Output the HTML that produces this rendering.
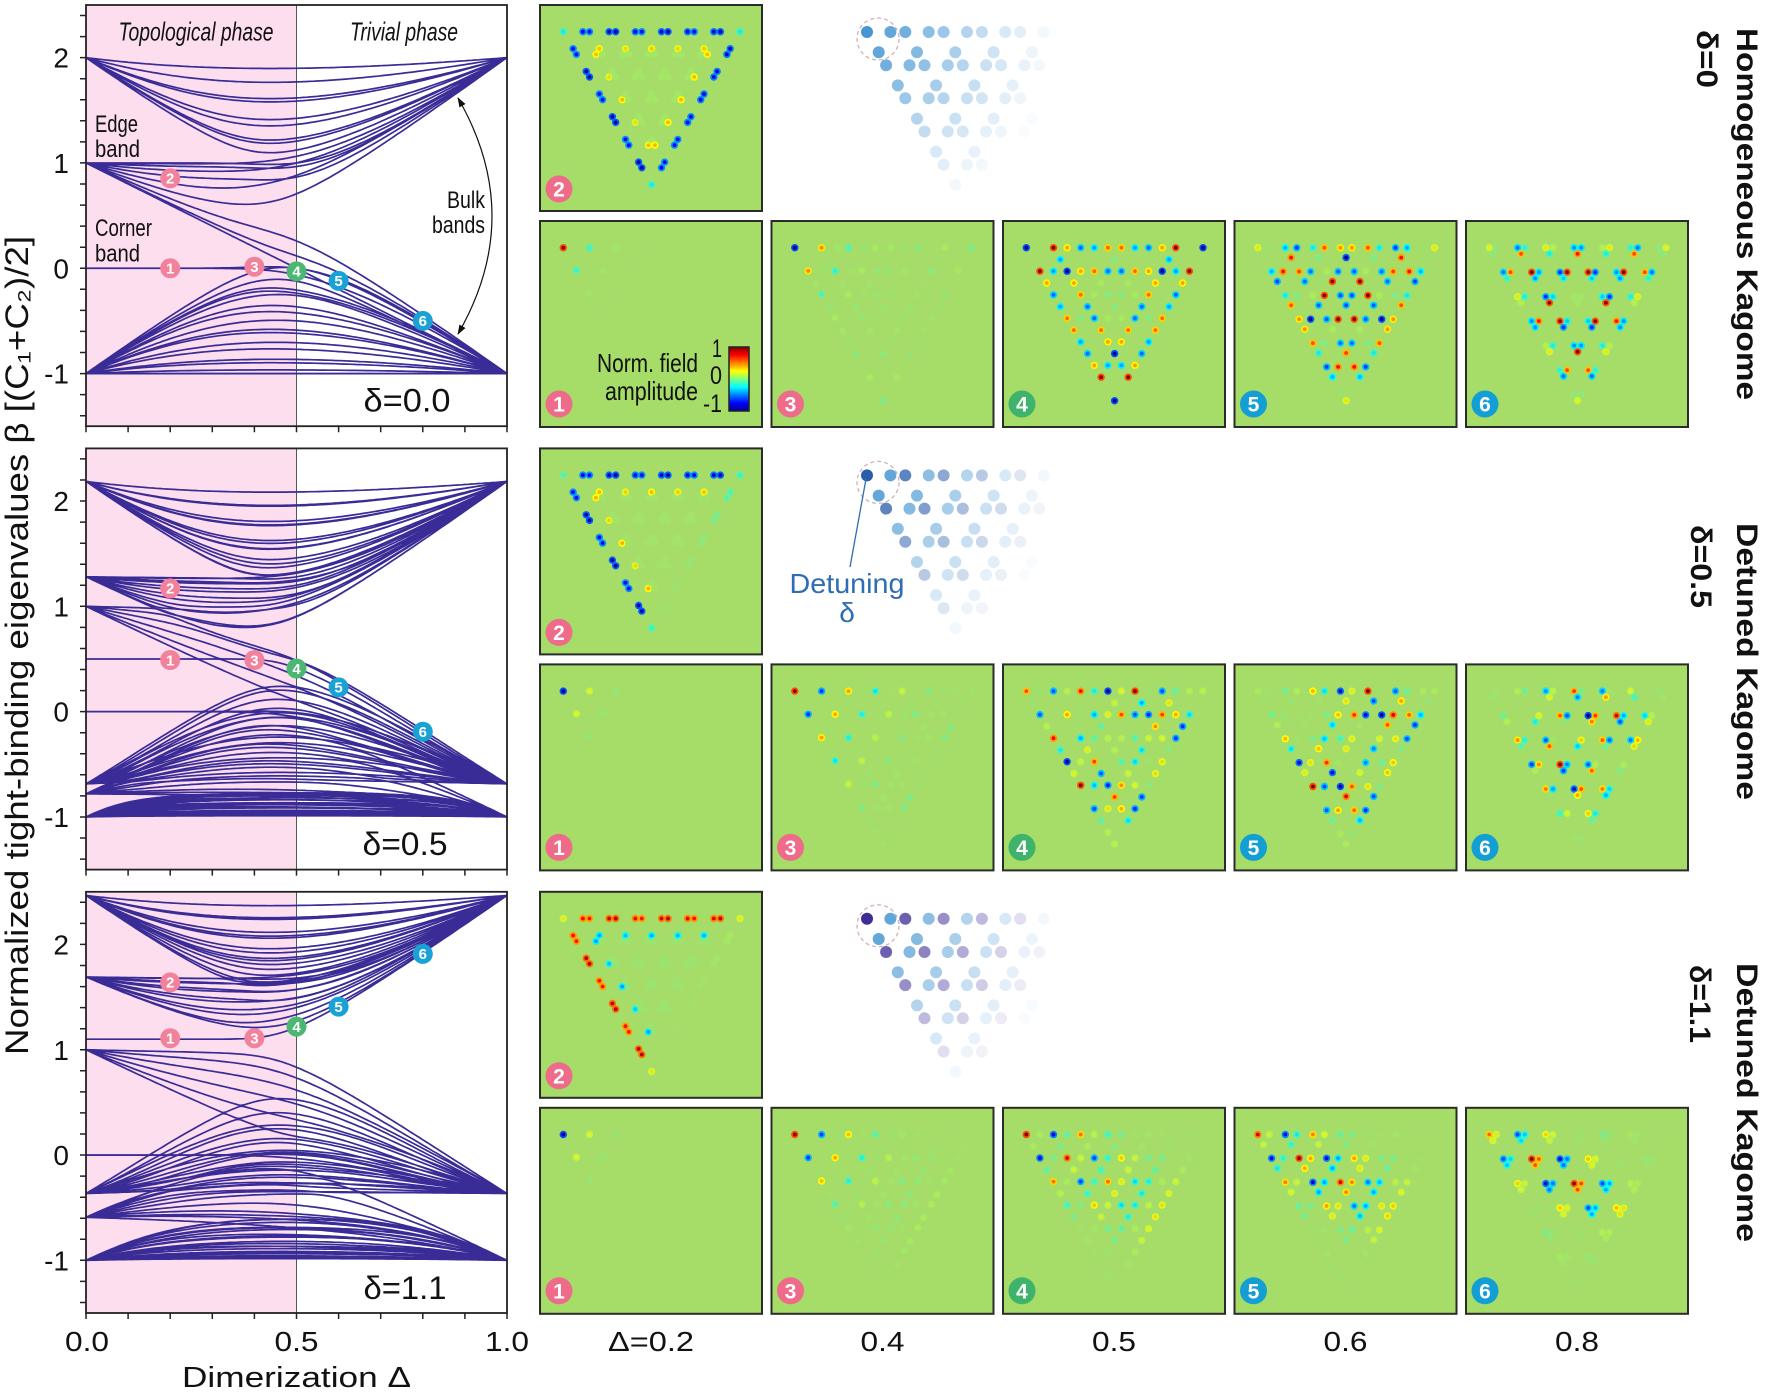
<!DOCTYPE html>
<html><head><meta charset="utf-8"><title>Kagome bands</title>
<style>
html,body{margin:0;padding:0;background:#fff;width:1772px;height:1393px;overflow:hidden}
svg{display:block}
</style></head><body>
<svg id="fig" xmlns="http://www.w3.org/2000/svg" width="1772" height="1393" viewBox="0 0 1772 1393" font-family="'Liberation Sans','DejaVu Sans',sans-serif">
<defs>
<linearGradient id="jet" x1="0" y1="1" x2="0" y2="0">
<stop offset="0" stop-color="#00008f"/><stop offset="0.125" stop-color="#0000ff"/><stop offset="0.375" stop-color="#00ffff"/><stop offset="0.5" stop-color="#80ff80"/><stop offset="0.625" stop-color="#ffff00"/><stop offset="0.875" stop-color="#ff0000"/><stop offset="1" stop-color="#800000"/>
</linearGradient>
<clipPath id="c0"><rect x="86" y="5" width="421" height="421.2"/></clipPath>
<clipPath id="c1"><rect x="86" y="448.4" width="421" height="421.2"/></clipPath>
<clipPath id="c2"><rect x="86" y="891.8" width="421" height="421.2"/></clipPath>
<marker id="ah" viewBox="0 0 10 10" refX="9" refY="5" markerWidth="10" markerHeight="10" markerUnits="userSpaceOnUse" orient="auto-start-reverse"><path d="M0 1.5L10 5L0 8.5z" fill="#111"/></marker>
</defs>

<!-- plot backgrounds -->
<rect x="86" y="5" width="210.5" height="421.2" fill="#fcdeee"/>
<rect x="86" y="448.4" width="210.5" height="421.2" fill="#fcdeee"/>
<rect x="86" y="891.8" width="210.5" height="421.2" fill="#fcdeee"/>
<line x1="296.5" y1="5" x2="296.5" y2="426.2" stroke="#555" stroke-width="1"/>
<line x1="296.5" y1="448.4" x2="296.5" y2="869.6" stroke="#555" stroke-width="1"/>
<line x1="296.5" y1="891.8" x2="296.5" y2="1313" stroke="#555" stroke-width="1"/>

<g id="bands0" clip-path="url(#c0)"></g>
<g id="bands1" clip-path="url(#c1)"></g>
<g id="bands2" clip-path="url(#c2)"></g>

<rect x="86" y="5" width="421" height="421.2" fill="none" stroke="#222" stroke-width="1.8"/>
<rect x="86" y="448.4" width="421" height="421.2" fill="none" stroke="#222" stroke-width="1.8"/>
<rect x="86" y="891.8" width="421" height="421.2" fill="none" stroke="#222" stroke-width="1.8"/>
<g id="ticks"></g>

<!-- y tick labels -->
<g font-size="28" text-anchor="end" fill="#111">
<text x="69" y="67.7">2</text><text x="69" y="173">1</text><text x="69" y="278.3">0</text><text x="69" y="383.6">-1</text>
<text x="69" y="511.1">2</text><text x="69" y="616.4">1</text><text x="69" y="721.7">0</text><text x="69" y="827">-1</text>
<text x="69" y="954.5">2</text><text x="69" y="1059.8">1</text><text x="69" y="1165.1">0</text><text x="69" y="1270.4">-1</text>
</g>
<!-- x tick labels -->
<g font-size="28" text-anchor="middle" fill="#111">
<text x="87" y="1351" textLength="44" lengthAdjust="spacingAndGlyphs">0.0</text>
<text x="296.5" y="1351" textLength="44" lengthAdjust="spacingAndGlyphs">0.5</text>
<text x="507" y="1351" textLength="44" lengthAdjust="spacingAndGlyphs">1.0</text>
<text x="296.5" y="1387" font-size="29" textLength="229" lengthAdjust="spacingAndGlyphs">Dimerization Δ</text>
<text x="651" y="1351" textLength="86" lengthAdjust="spacingAndGlyphs">Δ=0.2</text>
<text x="882.5" y="1351" textLength="44" lengthAdjust="spacingAndGlyphs">0.4</text>
<text x="1114" y="1351" textLength="44" lengthAdjust="spacingAndGlyphs">0.5</text>
<text x="1345.5" y="1351" textLength="44" lengthAdjust="spacingAndGlyphs">0.6</text>
<text x="1577" y="1351" textLength="44" lengthAdjust="spacingAndGlyphs">0.8</text>
</g>
<!-- y axis title -->
<text transform="translate(28,645.5) rotate(-90)" font-size="32" text-anchor="middle" fill="#111" textLength="819" lengthAdjust="spacingAndGlyphs">Normalized tight-binding eigenvalues β [(C₁+C₂)/2]</text>

<!-- plot 1 annotations -->
<g fill="#111">
<text x="196" y="40.5" font-size="26" font-style="italic" text-anchor="middle" textLength="155" lengthAdjust="spacingAndGlyphs">Topological phase</text>
<text x="404" y="40.5" font-size="26" font-style="italic" text-anchor="middle" textLength="108" lengthAdjust="spacingAndGlyphs">Trivial phase</text>
<text x="95" y="132" font-size="24" textLength="43" lengthAdjust="spacingAndGlyphs">Edge</text>
<text x="95" y="157" font-size="24" textLength="45" lengthAdjust="spacingAndGlyphs">band</text>
<text x="95" y="236" font-size="24" textLength="57" lengthAdjust="spacingAndGlyphs">Corner</text>
<text x="95" y="261.5" font-size="24" textLength="45" lengthAdjust="spacingAndGlyphs">band</text>
<text x="485" y="208" font-size="24" text-anchor="end" textLength="38" lengthAdjust="spacingAndGlyphs">Bulk</text>
<text x="485" y="233" font-size="24" text-anchor="end" textLength="53" lengthAdjust="spacingAndGlyphs">bands</text>
<text x="407" y="411.5" font-size="32" text-anchor="middle" textLength="87" lengthAdjust="spacingAndGlyphs">δ=0.0</text>
<text x="405" y="854.9" font-size="32" text-anchor="middle" textLength="85" lengthAdjust="spacingAndGlyphs">δ=0.5</text>
<text x="405" y="1299" font-size="32" text-anchor="middle" textLength="83" lengthAdjust="spacingAndGlyphs">δ=1.1</text>
</g>
<path d="M458 98 Q526 216 458 334" fill="none" stroke="#111" stroke-width="1.2" marker-start="url(#ah)" marker-end="url(#ah)"/>

<!-- plot markers -->
<g font-size="15" font-weight="bold" text-anchor="middle" fill="#fff">
<circle cx="170.2" cy="268.3" r="10" fill="#f2829b"/><circle cx="170.2" cy="178.3" r="10" fill="#f2829b"/><circle cx="254.4" cy="266.7" r="10" fill="#f2829b"/>
<circle cx="296.5" cy="271.4" r="10" fill="#4cb673"/><circle cx="338.6" cy="280.9" r="10" fill="#1aa2d6"/><circle cx="422.8" cy="320.9" r="10" fill="#1aa2d6"/>
<text x="170.2" y="273.6">1</text><text x="170.2" y="183.6">2</text><text x="254.4" y="272">3</text><text x="296.5" y="276.7">4</text><text x="338.6" y="286.2">5</text><text x="422.8" y="326.2">6</text>

<circle cx="170.2" cy="660" r="10" fill="#f2829b"/><circle cx="170.2" cy="588.4" r="10" fill="#f2829b"/><circle cx="254.4" cy="660" r="10" fill="#f2829b"/>
<circle cx="296.5" cy="668.5" r="10" fill="#4cb673"/><circle cx="338.6" cy="687.4" r="10" fill="#1aa2d6"/><circle cx="422.8" cy="731.7" r="10" fill="#1aa2d6"/>
<text x="170.2" y="665.3">1</text><text x="170.2" y="593.7">2</text><text x="254.4" y="665.3">3</text><text x="296.5" y="673.8">4</text><text x="338.6" y="692.7">5</text><text x="422.8" y="737">6</text>

<circle cx="170.2" cy="1038.2" r="10" fill="#f2829b"/><circle cx="170.2" cy="982.4" r="10" fill="#f2829b"/><circle cx="254.4" cy="1038.2" r="10" fill="#f2829b"/>
<circle cx="296.5" cy="1026.6" r="10" fill="#4cb673"/><circle cx="338.6" cy="1006.6" r="10" fill="#1aa2d6"/><circle cx="422.8" cy="953.9" r="10" fill="#1aa2d6"/>
<text x="170.2" y="1043.5">1</text><text x="170.2" y="987.7">2</text><text x="254.4" y="1043.5">3</text><text x="296.5" y="1031.9">4</text><text x="338.6" y="1011.9">5</text><text x="422.8" y="959.2">6</text>
</g>

<!-- field panels -->
<g fill="#a6dc68" stroke="#2b2b2b" stroke-width="2">
<rect x="540" y="5" width="222" height="206"/>
<rect x="540" y="221" width="222" height="206"/><rect x="771.5" y="221" width="222" height="206"/><rect x="1003" y="221" width="222" height="206"/><rect x="1234.5" y="221" width="222" height="206"/><rect x="1466" y="221" width="222" height="206"/>
<rect x="540" y="448.4" width="222" height="206"/>
<rect x="540" y="664.4" width="222" height="206"/><rect x="771.5" y="664.4" width="222" height="206"/><rect x="1003" y="664.4" width="222" height="206"/><rect x="1234.5" y="664.4" width="222" height="206"/><rect x="1466" y="664.4" width="222" height="206"/>
<rect x="540" y="891.8" width="222" height="206"/>
<rect x="540" y="1107.8" width="222" height="206"/><rect x="771.5" y="1107.8" width="222" height="206"/><rect x="1003" y="1107.8" width="222" height="206"/><rect x="1234.5" y="1107.8" width="222" height="206"/><rect x="1466" y="1107.8" width="222" height="206"/>
</g>
<g id="dots"></g>
<g id="scat"></g>

<!-- dashed circles around corner cell -->
<g fill="none" stroke="#cfb3bb" stroke-width="1.3" stroke-dasharray="4 3">
<circle cx="878" cy="39" r="21"/><circle cx="878" cy="482.4" r="21"/><circle cx="878" cy="925.8" r="21"/>
</g>

<!-- badges -->
<g font-size="21" font-weight="bold" text-anchor="middle" fill="#fff">
<circle cx="559" cy="189" r="13.5" fill="#ee6b8a"/><text x="559" y="196.5">2</text>
<circle cx="559" cy="404" r="13.5" fill="#ee6b8a"/><text x="559" y="411.5">1</text>
<circle cx="790.5" cy="404" r="13.5" fill="#ee6b8a"/><text x="790.5" y="411.5">3</text>
<circle cx="1022" cy="404" r="13.5" fill="#3fb36c"/><text x="1022" y="411.5">4</text>
<circle cx="1253.5" cy="404" r="13.5" fill="#139fd4"/><text x="1253.5" y="411.5">5</text>
<circle cx="1485" cy="404" r="13.5" fill="#139fd4"/><text x="1485" y="411.5">6</text>

<circle cx="559" cy="632.4" r="13.5" fill="#ee6b8a"/><text x="559" y="639.9">2</text>
<circle cx="559" cy="847.4" r="13.5" fill="#ee6b8a"/><text x="559" y="854.9">1</text>
<circle cx="790.5" cy="847.4" r="13.5" fill="#ee6b8a"/><text x="790.5" y="854.9">3</text>
<circle cx="1022" cy="847.4" r="13.5" fill="#3fb36c"/><text x="1022" y="854.9">4</text>
<circle cx="1253.5" cy="847.4" r="13.5" fill="#139fd4"/><text x="1253.5" y="854.9">5</text>
<circle cx="1485" cy="847.4" r="13.5" fill="#139fd4"/><text x="1485" y="854.9">6</text>

<circle cx="559" cy="1075.8" r="13.5" fill="#ee6b8a"/><text x="559" y="1083.3">2</text>
<circle cx="559" cy="1290.8" r="13.5" fill="#ee6b8a"/><text x="559" y="1298.3">1</text>
<circle cx="790.5" cy="1290.8" r="13.5" fill="#ee6b8a"/><text x="790.5" y="1298.3">3</text>
<circle cx="1022" cy="1290.8" r="13.5" fill="#3fb36c"/><text x="1022" y="1298.3">4</text>
<circle cx="1253.5" cy="1290.8" r="13.5" fill="#139fd4"/><text x="1253.5" y="1298.3">5</text>
<circle cx="1485" cy="1290.8" r="13.5" fill="#139fd4"/><text x="1485" y="1298.3">6</text>
</g>

<!-- colorbar -->
<rect x="729" y="347" width="20" height="64" fill="url(#jet)" stroke="#222" stroke-width="1.5"/>
<g fill="#111" font-size="25" text-anchor="end">
<text x="722" y="357" textLength="10" lengthAdjust="spacingAndGlyphs">1</text>
<text x="722" y="384" textLength="12" lengthAdjust="spacingAndGlyphs">0</text>
<text x="722" y="412" textLength="19" lengthAdjust="spacingAndGlyphs">-1</text>
<text x="698" y="372" font-size="26" textLength="101" lengthAdjust="spacingAndGlyphs">Norm. field</text>
<text x="698" y="400" font-size="26" textLength="93" lengthAdjust="spacingAndGlyphs">amplitude</text>
</g>

<!-- detuning annotation -->
<line x1="850" y1="567" x2="866" y2="479" stroke="#2e6db4" stroke-width="1.3"/>
<text x="847" y="593" font-size="28" fill="#2e6db4" text-anchor="middle" textLength="115" lengthAdjust="spacingAndGlyphs">Detuning</text>
<text x="847" y="622" font-size="28" fill="#2e6db4" text-anchor="middle">δ</text>

<!-- right labels -->
<g font-size="30" font-weight="bold" fill="#111">
<text transform="translate(1737,28) rotate(90)" textLength="372" lengthAdjust="spacingAndGlyphs">Homogeneous Kagome</text>
<text transform="translate(1697,30) rotate(90)" textLength="58" lengthAdjust="spacingAndGlyphs">δ=0</text>
<text transform="translate(1737,523) rotate(90)" textLength="277" lengthAdjust="spacingAndGlyphs">Detuned Kagome</text>
<text transform="translate(1691,525) rotate(90)" textLength="83" lengthAdjust="spacingAndGlyphs">δ=0.5</text>
<text transform="translate(1737,963) rotate(90)" textLength="279" lengthAdjust="spacingAndGlyphs">Detuned Kagome</text>
<text transform="translate(1690,965) rotate(90)" textLength="78" lengthAdjust="spacingAndGlyphs">δ=1.1</text>
</g>
</svg>

<script>
(function(){
var NSV="http://www.w3.org/2000/svg";
function el(tag,attrs,parent){var e=document.createElementNS(NSV,tag);for(var k in attrs)e.setAttribute(k,attrs[k]);if(parent)parent.appendChild(e);return e;}
var X0=86,W=421,U=105.3;
var groups=[{dl:0,T:5},{dl:0.5,T:448.4},{dl:1.1,T:891.8}];

/* ticks */
try{
var td='';
groups.forEach(function(g){
  for(var k=-7;k<=12;k++){var b=k*0.2;var y=g.T+(2.5-b)*U;td+='M80 '+y.toFixed(1)+'H86';}
  var yb=g.T+421.2;
  for(var k2=0;k2<=10;k2++){var x=X0+W*k2/10;td+='M'+x.toFixed(1)+' '+yb.toFixed(1)+'V'+(yb+6).toFixed(1);}
});
el('path',{d:td,stroke:'#222','stroke-width':'1.5',fill:'none'},document.getElementById('ticks'));
}catch(e){}

/* lattice */
var n=7,sites=[],idx={};
function key(s,i,j){return s+'_'+i+'_'+j;}
for(var i=0;i<n;i++)for(var j=0;i+j<n;j++){['A','B','C'].forEach(function(s){idx[key(s,i,j)]=sites.length;sites.push({s:s,i:i,j:j});});}
var N=sites.length,intra=[],inter=[];
for(var i=0;i<n;i++)for(var j=0;i+j<n;j++){var a=idx[key('A',i,j)],b=idx[key('B',i,j)],c=idx[key('C',i,j)];intra.push([a,b],[b,c],[a,c]);}
for(var i=-1;i<=n;i++)for(var j=-1;j<=n;j++){
  var t=[idx[key('B',i,j)],idx[key('A',i+1,j)],idx[key('C',i+1,j-1)]].filter(function(x){return x!==undefined;});
  for(var p=0;p<t.length;p++)for(var q=p+1;q<t.length;q++)inter.push([t[p],t[q]]);
}
function buildH(D,dl){
  var H=[];for(var p=0;p<N;p++)H.push(new Float64Array(N));
  for(var p=0;p<N;p++)if(sites[p].s==='A')H[p][p]=dl;
  intra.forEach(function(e){H[e[0]][e[1]]=D;H[e[1]][e[0]]=D;});
  inter.forEach(function(e){H[e[0]][e[1]]=1-D;H[e[1]][e[0]]=1-D;});
  return H;
}
function eig(V,wantV){
  var nn=V.length,d=new Float64Array(nn),e=new Float64Array(nn),i,j,k;
  for(j=0;j<nn;j++)d[j]=V[nn-1][j];
  for(i=nn-1;i>0;i--){
    var scale=0,h=0;
    for(k=0;k<i;k++)scale+=Math.abs(d[k]);
    if(scale===0){
      e[i]=d[i-1];
      for(j=0;j<i;j++){d[j]=V[i-1][j];V[i][j]=0;V[j][i]=0;}
    }else{
      for(k=0;k<i;k++){d[k]/=scale;h+=d[k]*d[k];}
      var f=d[i-1],g=Math.sqrt(h);
      if(f>0)g=-g;
      e[i]=scale*g;h=h-f*g;d[i-1]=f-g;
      for(j=0;j<i;j++)e[j]=0;
      for(j=0;j<i;j++){
        f=d[j];V[j][i]=f;g=e[j]+V[j][j]*f;
        for(k=j+1;k<=i-1;k++){g+=V[k][j]*d[k];e[k]+=V[k][j]*f;}
        e[j]=g;
      }
      f=0;
      for(j=0;j<i;j++){e[j]/=h;f+=e[j]*d[j];}
      var hh=f/(h+h);
      for(j=0;j<i;j++)e[j]-=hh*d[j];
      for(j=0;j<i;j++){
        f=d[j];g=e[j];
        for(k=j;k<=i-1;k++)V[k][j]-=(f*e[k]+g*d[k]);
        d[j]=V[i-1][j];V[i][j]=0;
      }
    }
    d[i]=h;
  }
  if(wantV){
    for(i=0;i<nn-1;i++){
      V[nn-1][i]=V[i][i];V[i][i]=1;
      var h2=d[i+1];
      if(h2!==0){
        for(k=0;k<=i;k++)d[k]=V[k][i+1]/h2;
        for(j=0;j<=i;j++){
          var g2=0;
          for(k=0;k<=i;k++)g2+=V[k][i+1]*V[k][j];
          for(k=0;k<=i;k++)V[k][j]-=g2*d[k];
        }
      }
      for(k=0;k<=i;k++)V[k][i+1]=0;
    }
    for(j=0;j<nn;j++){d[j]=V[nn-1][j];V[nn-1][j]=0;}
    V[nn-1][nn-1]=1;
  }else{
    for(j=0;j<nn;j++)d[j]=V[j][j];
  }
  e[0]=0;
  for(i=1;i<nn;i++)e[i-1]=e[i];
  e[nn-1]=0;
  var ff=0,tst1=0,eps=Math.pow(2,-52);
  for(var l=0;l<nn;l++){
    tst1=Math.max(tst1,Math.abs(d[l])+Math.abs(e[l]));
    var m=l;
    while(m<nn){if(Math.abs(e[m])<=eps*tst1)break;m++;}
    if(m>l){
      var iter=0;
      do{
        iter++;
        var gg=d[l];
        var pp=(d[l+1]-gg)/(2*e[l]);
        var r=Math.sqrt(pp*pp+1);
        if(pp<0)r=-r;
        d[l]=e[l]/(pp+r);
        d[l+1]=e[l]*(pp+r);
        var dl1=d[l+1];
        var hq=gg-d[l];
        for(i=l+2;i<nn;i++)d[i]-=hq;
        ff+=hq;
        pp=d[m];
        var c=1,c2=1,c3=1,el1=e[l+1],s=0,s2=0;
        for(i=m-1;i>=l;i--){
          c3=c2;c2=c;s2=s;
          gg=c*e[i];hq=c*pp;
          r=Math.sqrt(pp*pp+e[i]*e[i]);
          e[i+1]=s*r;s=e[i]/r;c=pp/r;
          pp=c*d[i]-s*gg;
          d[i+1]=hq+s*(c*gg+s*d[i]);
          if(wantV){for(k=0;k<nn;k++){var hv=V[k][i+1];V[k][i+1]=s*V[k][i]+c*hv;V[k][i]=c*V[k][i]-s*hv;}}
        }
        pp=-s*s2*c3*el1*e[l]/dl1;
        e[l]=s*pp;d[l]=c*pp;
      }while(Math.abs(e[l])>eps*tst1&&iter<80);
    }
    d[l]=d[l]+ff;e[l]=0;
  }
  return {d:d,V:V};
}

/* band curves */
try{
var NST=120;
groups.forEach(function(g,gi){
  var ev=[];
  for(var t=0;t<=NST;t++){
    var D=t/NST;
    var r=eig(buildH(D,g.dl),false);
    ev.push(Array.prototype.slice.call(r.d).sort(function(a,b){return a-b;}));
  }
  var ds='';
  for(var k=0;k<N;k++){
    for(var t2=0;t2<=NST;t2++){
      var x=X0+W*t2/NST,y=g.T+(2.5-ev[t2][k])*U;
      ds+=(t2===0?'M':'L')+x.toFixed(1)+' '+y.toFixed(1);
    }
  }
  el('path',{d:ds,fill:'none',stroke:'#3a2c96','stroke-width':'1.7','stroke-linejoin':'round'},document.getElementById('bands'+gi));
});
}catch(e){}

/* site classification for edge modes */
function edgeClass(s){
  var i=s.i,j=s.j,L=n-1;
  if(s.s==='A'&&i===0&&j===0)return 'corner';
  if(s.s==='B'&&i===L&&j===0)return 'corner';
  if(s.s==='C'&&i===0&&j===L)return 'corner';
  if(j===0&&((s.s==='A'&&i>=1)||(s.s==='B'&&i<=L-1)))return 'top';
  if(i===0&&((s.s==='A'&&j>=1)||(s.s==='C'&&j<=L-1)))return 'left';
  if(i+j===L&&((s.s==='B'&&j>=1)||(s.s==='C'&&i>=1)))return 'right';
  if(j===0)return 'innerTop';
  if(i===0)return 'innerLeft';
  if(i+j===L)return 'innerRight';
  return 'bulk';
}
function mode2Amp(s,gi,q){
  var c=edgeClass(s);
  var wob=0.9+0.1*Math.cos(3*q[0]+2*q[1]);
  if(gi===0){
    if(c==='top'||c==='left'||c==='right')return -0.95*wob;
    if(c==='corner')return -0.3;
    if(c.indexOf('inner')===0)return 0.4*wob;
    return 0.08;
  }else if(gi===1){
    if(c==='top'||c==='left')return -0.95*wob;
    if(c==='right')return -0.3*Math.exp(-q[1]/2);
    if(c==='corner')return s.s==='A'?-0.2:-0.25;
    if(c==='innerTop'||c==='innerLeft')return 0.42*wob;
    return 0.05;
  }else{
    if(c==='top'||c==='left')return 0.9*wob;
    if(c==='right')return 0.15*Math.exp(-q[1]/2);
    if(c==='corner')return 0.3;
    if(c==='innerTop'||c==='innerLeft')return -0.45*wob;
    return -0.05;
  }
}

/* panel dots */
function pos(s,d1){var X=s.i+s.j*0.5,Y=s.j*0.8660254;if(s.s==='B'){X+=d1;}else if(s.s==='C'){X+=d1*0.5;Y+=d1*0.8660254;}return [X,Y];}
function jet(x){
  function cl(v){return Math.min(1,Math.max(0,v));}
  return [cl(1.5-Math.abs(4*x-3))*255,cl(1.5-Math.abs(4*x-2))*255,cl(1.5-Math.abs(4*x-1))*255];
}
var BG=[166,220,104];
function col(a,w){var jj=jet((a+1)/2);return 'rgb('+Math.round(BG[0]+(jj[0]-BG[0])*w)+','+Math.round(BG[1]+(jj[1]-BG[1])*w)+','+Math.round(BG[2]+(jj[2]-BG[2])*w)+')';}
try{
var PX=[540,771.5,1003,1234.5,1466];
var MK=[
 [[0.2,0],[0.2,0.855],[0.4,0.015],[0.5,-0.03],[0.6,-0.12],[0.8,-0.5]],
 [[0.2,0.49],[0.2,1.17],[0.4,0.49],[0.5,0.41],[0.6,0.23],[0.8,-0.19]],
 [[0.2,1.11],[0.2,1.64],[0.4,1.11],[0.5,1.22],[0.6,1.41],[0.8,1.91]]];
var SIGN=[[1,-1,-1,1,1,1],[-1,-1,1,1,1,1],[-1,-1,1,1,1,1]];
var place=[[0,1],[0,0],[1,1],[2,1],[3,1],[4,1]];
var dotsG=document.getElementById('dots');
groups.forEach(function(g,gi){
  for(var k=0;k<6;k++){
    var D=MK[gi][k][0],beta=MK[gi][k][1];
    var d1=0.5+(0.5-D)*0.83;
    var P=sites.map(function(s){return pos(s,d1);});
    var v=new Float64Array(N),mx=0,mi=0,sg=1;
    if(k===1){
      for(var pe=0;pe<N;pe++)v[pe]=mode2Amp(sites[pe],gi,P[pe]);
      mx=1;sg=1;
    }else{
      var r=eig(buildH(D,g.dl),true),dv=r.d,V=r.V;
      var best=0;
      for(var i=0;i<N;i++)if(Math.abs(dv[i]-beta)<Math.abs(dv[best]-beta))best=i;
      var deg=[];
      for(var i2=0;i2<N;i2++)if(Math.abs(dv[i2]-dv[best])<1e-3)deg.push(i2);
      if(deg.length===1){for(var p=0;p<N;p++)v[p]=V[p][best];}
      else{
        var probe=P.map(function(q){return Math.exp(-Math.sqrt(q[0]*q[0]+q[1]*q[1])/1.5);});
        deg.forEach(function(ii){
          var cc=0;for(var p=0;p<N;p++)cc+=V[p][ii]*probe[p];
          for(var p2=0;p2<N;p2++)v[p2]+=cc*V[p2][ii];
        });
      }
      if(k===2&&gi===0){
        for(var pz=0;pz<N;pz++){var qq=P[pz];v[pz]*=Math.exp(-Math.sqrt(qq[0]*qq[0]+qq[1]*qq[1])/3.2);}
      }
      for(var p3=0;p3<N;p3++)if(Math.abs(v[p3])>mx){mx=Math.abs(v[p3]);mi=p3;}
      if(mx===0)continue;
      sg=(v[mi]>0?1:-1)*SIGN[gi][k];
    }
    var col0=place[k][0],row=place[k][1];
    var px=PX[col0],py=g.T+(row===0?0:216);
    var u=176.7/(n-1+d1);
    for(var p4=0;p4<N;p4++){
      var a=v[p4]/mx*sg;
      var w=Math.pow(Math.min(1,Math.abs(a)*2.5),0.8);
      if(w<0.04)continue;
      var x=px+23.3+P[p4][0]*u,y=py+26.7+P[p4][1]*u;
      el('circle',{cx:x.toFixed(1),cy:y.toFixed(1),r:'3.7',fill:col(a*0.6,w)},dotsG);
      el('circle',{cx:x.toFixed(1),cy:y.toFixed(1),r:'1.9',fill:col(a,w)},dotsG);
    }
  }
});
}catch(e){}

/* lattice sketches */
try{
var sc=document.getElementById('scat');
groups.forEach(function(g,gi){
  var u=38.3,d1=0.61,cx=867,cy=g.T+27;
  sites.forEach(function(s){
    var q=pos(s,d1);var x=cx+q[0]*u,y=cy+q[1]*u;
    var dist=Math.sqrt((x-cx)*(x-cx)+(y-cy)*(y-cy));
    var al=Math.pow(Math.max(0,1-dist/200),1.3);
    if(al<0.03)return;
    var c='rgb(70,150,212)';
    if(s.s==='A'){if(gi===1)c='rgb(42,92,172)';else if(gi===2)c='rgb(62,44,152)';}
    el('circle',{cx:x.toFixed(1),cy:y.toFixed(1),r:'6',fill:c,'fill-opacity':al.toFixed(3)},sc);
  });
});
}catch(e){}
})();
</script>
</body></html>
